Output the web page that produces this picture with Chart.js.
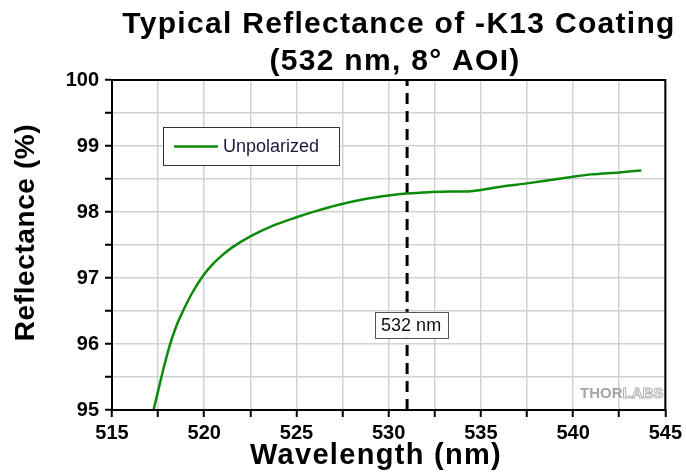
<!DOCTYPE html>
<html>
<head>
<meta charset="utf-8">
<script src="https://cdn.jsdelivr.net/npm/chart.js@4/dist/chart.umd.min.js"></script>
<style>
html,body{margin:0;padding:0;background:#fff;}
#wrap{width:686px;height:472px;position:relative;}
</style>
</head>
<body>
<div id="wrap"><canvas id="c" width="686" height="472"></canvas></div>
<script>
// ---- data ----
const titleLines = ["Typical Reflectance of -K13 Coating", "(532 nm, 8\u00B0 AOI)"];
const xTitle = "Wavelength (nm)";
const yTitle = "Reflectance (%)";
const seriesLabel = "Unpolarized";
const markerLabel = "532 nm";
const markerX = [531, 531];
const markerY = [95, 100];
const wavelengths = [517.25, 517.5, 517.75, 518.1, 518.5, 518.85, 519.3, 519.9, 520.5, 521.0, 521.5, 522.5, 523.7, 525.0, 526.0, 527.3, 528.8, 530.0, 531.0, 532.2, 533.3, 534.2, 534.9, 536.0, 537.4, 539.9, 541.0, 542.5, 543.7];
const reflectance = [95.00, 95.29, 95.58, 95.95, 96.28, 96.50, 96.75, 97.02, 97.22, 97.35, 97.46, 97.63, 97.79, 97.92, 98.01, 98.11, 98.20, 98.25, 98.28, 98.30, 98.31, 98.31, 98.33, 98.38, 98.43, 98.53, 98.57, 98.60, 98.63];
const xTickLabels = [515, 520, 525, 530, 535, 540, 545];
const yTickLabels = [95, 96, 97, 98, 99, 100];

const FONT = "'Liberation Sans', Arial, sans-serif";
const GREEN = '#0a8c0a';

const decor = {
  id: 'decor',
  beforeDatasetsDraw(chart) {
    const ctx = chart.ctx;
    // watermark
    ctx.save();
    ctx.font = "bold 15px " + FONT;
    ctx.textBaseline = 'alphabetic';
    ctx.textAlign = 'left';
    ctx.fillStyle = '#a4a4a4';
    ctx.fillText('THOR', 580, 398);
    const w = ctx.measureText('THOR').width;
    ctx.strokeStyle = '#b0b0b0';
    ctx.lineWidth = 1;
    ctx.fillStyle = '#ffffff';
    ctx.fillText('LABS', 580 + w, 398);
    ctx.strokeText('LABS', 580 + w, 398);
    ctx.restore();
  },
  afterDatasetsDraw(chart) {
    const ctx = chart.ctx;
    const a = chart.chartArea;
    const xs = chart.scales.x, ys = chart.scales.y;
    ctx.save();
    // plot frame
    ctx.strokeStyle = '#000';
    ctx.lineWidth = 2;
    ctx.strokeRect(a.left, a.top, a.right - a.left, a.bottom - a.top);

    // marker label box
    ctx.font = "18px " + FONT;
    const cx = xs.getPixelForValue(markerX[0]) + 4;
    const cy = ys.getPixelForValue(96.29);
    const tw = ctx.measureText(markerLabel).width;
    const bw = tw + 13, bh = 26;
    ctx.fillStyle = '#fff';
    ctx.fillRect(cx - bw / 2, cy - bh / 2, bw, bh);
    ctx.strokeStyle = '#555';
    ctx.lineWidth = 1;
    ctx.strokeRect(Math.round(cx - bw / 2) + 0.5, Math.round(cy - bh / 2) + 0.5, Math.round(bw), bh);
    ctx.fillStyle = '#111';
    ctx.textAlign = 'center';
    ctx.textBaseline = 'middle';
    ctx.fillText(markerLabel, cx, cy + 1);

    // legend
    const lx = 163, ly = 127, lw = 176, lh = 38;
    ctx.fillStyle = '#fff';
    ctx.fillRect(lx, ly, lw, lh);
    ctx.strokeStyle = '#333';
    ctx.strokeRect(lx + 0.5, ly + 0.5, lw, lh);
    ctx.strokeStyle = GREEN;
    ctx.lineWidth = 2.5;
    ctx.beginPath();
    ctx.moveTo(174, ly + lh / 2 + 0.5);
    ctx.lineTo(218, ly + lh / 2 + 0.5);
    ctx.stroke();
    ctx.fillStyle = '#1a1a38';
    ctx.textAlign = 'left';
    ctx.font = "18px " + FONT;
    ctx.fillText(seriesLabel, 223, ly + lh / 2 + 1);

    // titles
    ctx.fillStyle = '#000';
    ctx.textAlign = 'center';
    ctx.textBaseline = 'alphabetic';
    ctx.font = "bold 30px " + FONT;
    try { ctx.letterSpacing = '1.3px'; } catch (e) {}
    ctx.fillText(titleLines[0], 399, 33);
    ctx.fillText(titleLines[1], 395, 70);
    ctx.font = "bold 29px " + FONT;
    ctx.fillText(xTitle, 376, 464);
    ctx.save();
    ctx.translate(34, 232.5);
    ctx.rotate(-Math.PI / 2);
    ctx.font = "bold 28px " + FONT;
    try { ctx.letterSpacing = '0.6px'; } catch (e) {}
    ctx.fillText(yTitle, 0, 0);
    ctx.restore();
    ctx.restore();
  }
};

new Chart(document.getElementById('c'), {
  type: 'line',
  data: {
    datasets: [
      {
        label: seriesLabel,
        data: wavelengths.map((x, i) => ({ x: x, y: reflectance[i] })),
        borderColor: GREEN,
        borderWidth: 2.5,
        pointRadius: 0,
        cubicInterpolationMode: 'monotone',
        fill: false
      },
      {
        label: markerLabel,
        data: markerX.map((x, i) => ({ x: x, y: markerY[i] })),
        borderColor: '#000',
        borderWidth: 3,
        borderDash: [11, 7],
        pointRadius: 0,
        fill: false
      }
    ]
  },
  options: {
    responsive: false,
    animation: false,
    devicePixelRatio: 1,
    layout: { padding: { top: 80, right: 19, left: 0, bottom: 0 } },
    plugins: { legend: { display: false }, title: { display: false }, tooltip: { enabled: false } },
    scales: {
      x: {
        type: 'linear',
        min: 515, max: 545,
        afterFit(s) { s.height = 62; },
        afterBuildTicks(s) {
          const t = [];
          for (let v = 515; v <= 545; v += 2.5) t.push({ value: v });
          s.ticks = t;
        },
        ticks: {
          autoSkip: false,
          maxRotation: 0,
          padding: 4,
          color: '#000',
          font: { family: FONT, size: 20, weight: 'bold' },
          callback: (v) => xTickLabels.includes(v) ? String(v) : ''
        },
        grid: {
          color: '#d2d2d2',
          lineWidth: 1.5,
          drawTicks: true,
          tickLength: 7,
          tickColor: '#000',
          tickWidth: 2
        },
        border: { display: true, color: '#000', width: 2 }
      },
      y: {
        type: 'linear',
        min: 95, max: 100,
        afterFit(s) { s.width = 112; },
        afterBuildTicks(s) {
          const t = [];
          for (let v = 95; v <= 100.001; v += 0.5) t.push({ value: Math.round(v * 10) / 10 });
          s.ticks = t;
        },
        ticks: {
          autoSkip: false,
          padding: 6,
          color: '#000',
          font: { family: FONT, size: 20, weight: 'bold' },
          callback: (v) => yTickLabels.includes(v) ? String(v) : ''
        },
        grid: {
          color: '#d2d2d2',
          lineWidth: 1.5,
          drawTicks: true,
          tickLength: 7,
          tickColor: '#000',
          tickWidth: 2
        },
        border: { display: true, color: '#000', width: 2 }
      }
    }
  },
  plugins: [decor]
});
</script>
</body>
</html>
